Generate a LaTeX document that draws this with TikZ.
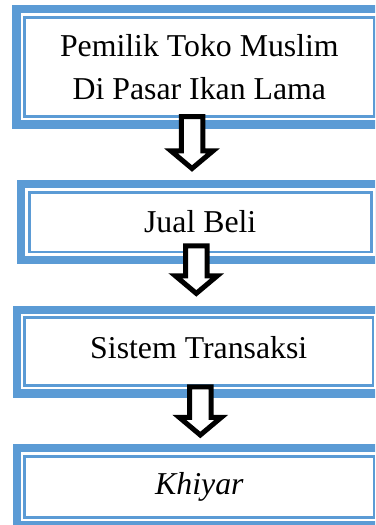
\documentclass[tikz,border=0pt]{standalone}
\usepackage{fontspec}
\setmainfont{Liberation Serif}
\usepackage{tikz}
\usetikzlibrary{positioning}
\usetikzlibrary{fit,shapes,calc}
\definecolor{frameblue}{HTML}{5B9BD5}
\tikzset{box node/.style={rectangle,draw=frameblue,line width=2.6pt,fill=white,inner sep=0pt,align=center,font=\fontsize{31.8}{43.3}\selectfont},
	frame node/.style={rectangle,draw=frameblue,line width=8.3pt,inner sep=6.7pt},
	down arrow/.style={single arrow,draw=black,fill=white,line width=5pt,inner sep=8.25pt,outer sep=0pt,single arrow head extend=10.25pt,single arrow tip angle=100,shape border rotate=270,anchor=tail},}
\begin{document}
\begin{tikzpicture}[x=1pt,y=-1pt]
	\useasboundingbox (0,0) rectangle (375,525);
	\clip (0,0) rectangle (375,525);
	\node[box node, minimum width=349.7pt, minimum height=99.3pt] (owner) at (199.35,66.85) {Pemilik Toko Muslim\\Di Pasar Ikan Lama};
	\node[box node, minimum width=342pt, minimum height=59.8pt] (trade) at (200.2,222.1) {Jual Beli};
	\node[box node, minimum width=348.1pt, minimum height=67.8pt, text depth=8pt] (system) at (198.75,351.6) {Sistem Transaksi};
	\node[box node, minimum width=349.3pt, minimum height=61pt] (khiyar) at (199.35,486.7) {\itshape Khiyar};
	
	\node[frame node, fit=(owner)] (owner frame) {};
	\node[frame node, fit=(trade)] (trade frame) {};
	\node[frame node, fit=(system)] (system frame) {};
	\node[frame node, fit=(khiyar)] (khiyar frame) {};
	
	\node[down arrow, minimum height=52pt] (arrow a) at (192,116.5) {};
	\node[down arrow, minimum height=47.6pt] (arrow b) at (196.3,245.8) {};
	\node[down arrow, minimum height=48.2pt] (arrow c) at (200.3,386.8) {};
\end{tikzpicture}
\end{document}
